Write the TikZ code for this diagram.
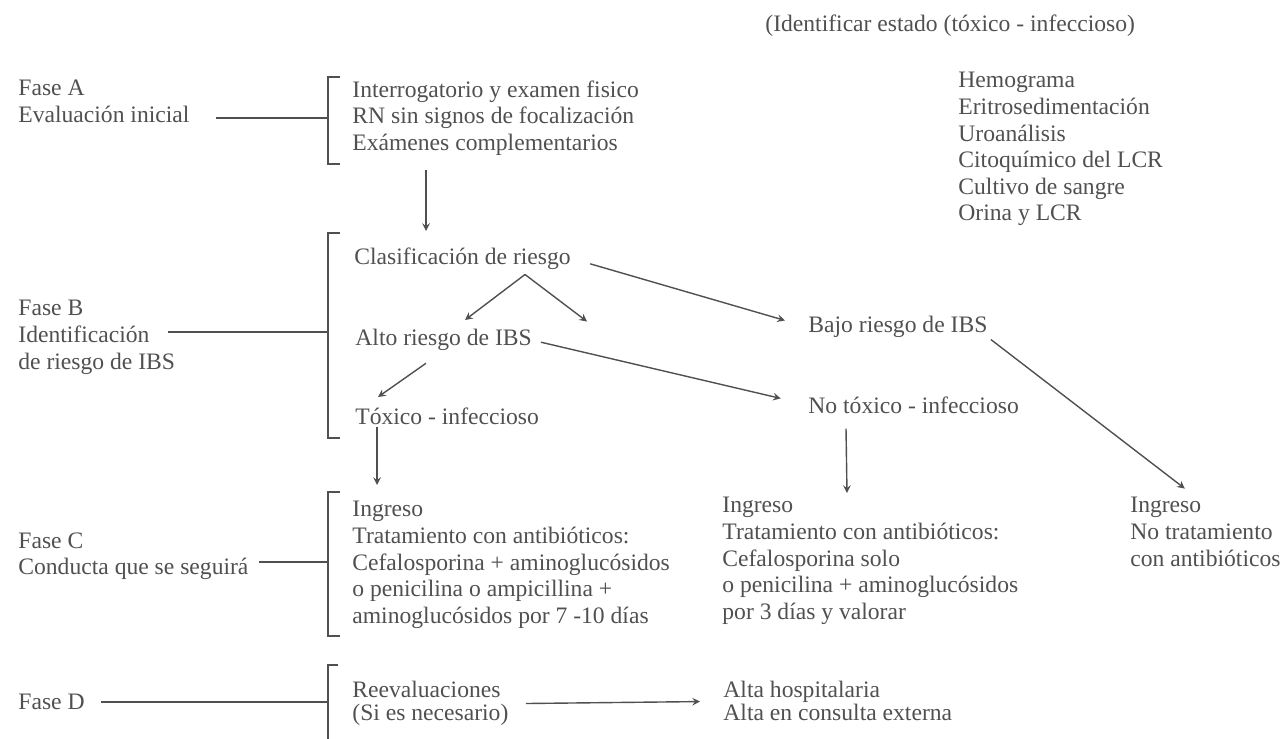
\documentclass[tikz,border=0pt]{standalone}
\usepackage{fontspec}
\setmainfont{Liberation Serif}
\usetikzlibrary{arrows}
\definecolor{inkgray}{RGB}{80,80,80}
\tikzstyle{arrow} = [line width=0.7pt,->,>=stealth,draw=inkgray]

\begin{document}
\begin{tikzpicture}[
  x=0.5pt, y=-0.5pt,
  txt/.style={anchor=north west, inner sep=0pt, align=left, text=inkgray,
              font=\fontsize{11.8}{13.3}\selectfont},
  tight/.style={font=\fontsize{11.8}{11.6}\selectfont},
  link/.style={draw=inkgray, line width=0.7pt},
  brace/.style={draw=inkgray, line width=1pt}
]
\useasboundingbox (0,0) rectangle (1283,738);

% Header and complementary exams
\node[txt] (estado) at (765,14) {(Identificar estado (tóxico - infeccioso)};
\node[txt] (exams) at (958,72) {Hemograma\\Eritrosedimentación\\Uroanálisis\\Citoquímico del LCR\\Cultivo de sangre\\Orina y LCR};

% Phase labels
\node[txt] (fasea) at (18,80) {Fase A\\Evaluación inicial};
\node[txt] (faseb) at (18,300) {Fase B\\Identificación\\de riesgo de IBS};
\node[txt] (fasec) at (18,532) {Fase C\\Conducta que se seguirá};
\node[txt, anchor=west] (fased) at (18,702) {Fase D};

% Brackets
\draw[brace] (340,77) -- (328,77) -- (328,164) -- (340,164);
\draw[brace] (340,233) -- (328,233) -- (328,438) -- (340,438);
\draw[brace] (340,492) -- (328,492) -- (328,636) -- (340,636);
\draw[brace] (338,665) -- (328,665) -- (328,745);
\coordinate (brA) at (328,118);
\coordinate (brB) at (328,332);
\coordinate (brC) at (328,562);
\coordinate (brD) at (328,702);

\draw[link, shorten >=13pt] (brA) -- (brA -| fasea.east);
\draw[link, shorten >=-3.5pt] (brB) -- (brB -| faseb.east);
\draw[link, shorten >=5pt] (brC) -- (brC -| fasec.east);
\draw[link, shorten >=8pt] (brD) -- (brD -| fased.east);

% Fase A
\node[txt] (evala) at (352,80) {Interrogatorio y examen fisico\\RN sin signos de focalización\\Exámenes complementarios};

% Fase B
\node[txt] (clasif) at (354,247) {Clasificación de riesgo};
\node[txt] (alto) at (355,329) {Alto riesgo de IBS};
\node[txt] (toxico) at (355,407) {Tóxico - infeccioso};
\node[txt] (bajo) at (808,316) {Bajo riesgo de IBS};
\node[txt] (notox) at (808,396) {No tóxico - infeccioso};

\draw[arrow] ([shift={(37pt,-7pt)}]evala.south west) -- ([shift={(36pt,8pt)}]clasif.north west);
\coordinate (split) at ([shift={(85.5pt,-2.5pt)}]clasif.south west);
\draw[arrow] (split) -- ([shift={(55pt,4.5pt)}]alto.north west);
\draw[arrow] (split) -- ++(62,47);
\draw[arrow, shorten <=10pt, shorten >=12pt] (clasif.east) -- (bajo.west);
\draw[arrow, shorten <=4.5pt, shorten >=14pt] (alto.east) -- (notox.west);
\draw[arrow] ([shift={(35.5pt,-6pt)}]alto.south west) -- ([shift={(11.5pt,5pt)}]toxico.north west);

% Fase C
\node[txt] (condtox) at (352,501) {Ingreso\\Tratamiento con antibióticos:\\Cefalosporina + aminoglucósidos\\o penicilina o ampicillina +\\aminoglucósidos por 7 -10 días};
\node[txt] (condnotox) at (722,497) {Ingreso\\Tratamiento con antibióticos:\\Cefalosporina solo\\o penicilina + aminoglucósidos\\por 3 días y valorar};
\node[txt] (condbajo) at (1130,497) {Ingreso\\No tratamiento\\con antibióticos};

\draw[arrow] ([shift={(11pt,-1pt)}]toxico.south west) -- ([shift={(12.5pt,8pt)}]condtox.north west);
\draw[arrow] ([shift={(19pt,-7.5pt)}]notox.south west) -- ([shift={(62.5pt,2pt)}]condnotox.north west);
\draw[arrow, shorten <=2pt, shorten >=2pt] ([yshift=-5pt]bajo.east) -- ([shift={(29pt,3pt)}]condbajo.north west);

% Fase D
\node[txt, tight] (reeval) at (352,681) {Reevaluaciones\\(Si es necesario)};
\node[txt, tight] (alta) at (723,681) {Alta hospitalaria\\Alta en consulta externa};

\draw[arrow, shorten <=8.5pt, shorten >=11.5pt] (reeval.east) -- (alta.west);
\end{tikzpicture}
\end{document}
